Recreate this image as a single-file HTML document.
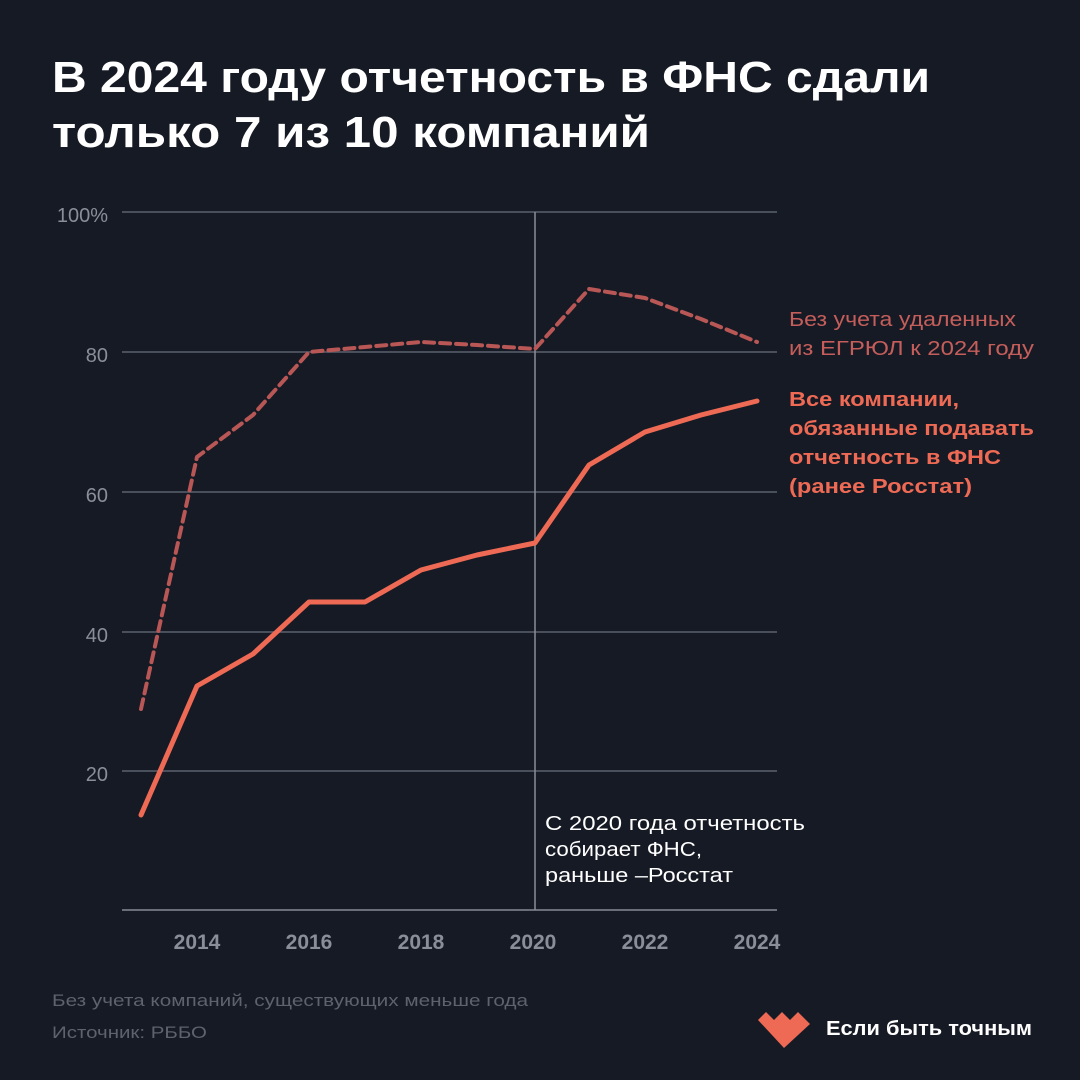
<!DOCTYPE html>
<html><head><meta charset="utf-8"><style>
body{margin:0;background:#161a24;}
svg{display:block}
</style></head><body>
<svg width="1080" height="1080" viewBox="0 0 1080 1080" xmlns="http://www.w3.org/2000/svg" font-family="Liberation Sans, DejaVu Sans, sans-serif">
<rect width="1080" height="1080" fill="#161a24"/>
<text x="52" y="92" fill="#ffffff" font-size="44" font-weight="bold" textLength="878" lengthAdjust="spacingAndGlyphs">В 2024 году отчетность в ФНС сдали</text>
<text x="52" y="147" fill="#ffffff" font-size="44" font-weight="bold" textLength="598" lengthAdjust="spacingAndGlyphs">только 7 из 10 компаний</text>
<g stroke="#4a4f5c" stroke-width="2">
<line x1="122" y1="212" x2="777" y2="212"/>
<line x1="122" y1="352" x2="777" y2="352"/>
<line x1="122" y1="492" x2="777" y2="492"/>
<line x1="122" y1="632" x2="777" y2="632"/>
<line x1="122" y1="771" x2="777" y2="771"/>
<line x1="122" y1="910" x2="777" y2="910" stroke="#6a6e78"/>
</g>
<line x1="535" y1="212" x2="535" y2="910" stroke="#8a8e98" stroke-width="1.5"/>
<g fill="#8a8e98" font-size="20" text-anchor="end">
<text x="108" y="222">100%</text>
<text x="108" y="362">80</text>
<text x="108" y="502">60</text>
<text x="108" y="642">40</text>
<text x="108" y="781">20</text>
</g>
<g fill="#8a8e98" font-size="21" font-weight="bold" text-anchor="middle">
<text x="197" y="949">2014</text><text x="309" y="949">2016</text><text x="421" y="949">2018</text>
<text x="533" y="949">2020</text><text x="645" y="949">2022</text><text x="757" y="949">2024</text>
</g>
<polyline fill="none" stroke="#b85755" stroke-width="4" stroke-dasharray="10,6" stroke-linejoin="round" stroke-linecap="round" points="141,709 197,457 253,415 309,352 365,347 421,342 477,345 535,349 589,289 645,298 701,319 757,342"/>
<polyline fill="none" stroke="#ee6a55" stroke-width="5" stroke-linejoin="round" stroke-linecap="round" points="141,815 197,686 253,654 309,602 365,602 421,570 477,555 535,543 589,465 645,432 701,415 757,401"/>
<text x="789" y="326" fill="#c55e5b" font-size="20" textLength="227" lengthAdjust="spacingAndGlyphs">Без учета удаленных</text>
<text x="789" y="355" fill="#c55e5b" font-size="20" textLength="245" lengthAdjust="spacingAndGlyphs">из ЕГРЮЛ к 2024 году</text>
<g fill="#ee6a55" font-size="20" font-weight="bold">
<text x="789" y="406" textLength="170" lengthAdjust="spacingAndGlyphs">Все компании,</text>
<text x="789" y="435" textLength="245" lengthAdjust="spacingAndGlyphs">обязанные подавать</text>
<text x="789" y="464" textLength="212" lengthAdjust="spacingAndGlyphs">отчетность в ФНС</text>
<text x="789" y="493" textLength="183" lengthAdjust="spacingAndGlyphs">(ранее Росстат)</text>
</g>
<g fill="#ffffff" font-size="20">
<text x="545" y="830" textLength="260" lengthAdjust="spacingAndGlyphs">С 2020 года отчетность</text>
<text x="545" y="856" textLength="157" lengthAdjust="spacingAndGlyphs">собирает ФНС,</text>
<text x="545" y="882" textLength="188" lengthAdjust="spacingAndGlyphs">раньше –Росстат</text>
</g>
<text x="52" y="1006" fill="#5e626c" font-size="17" textLength="476" lengthAdjust="spacingAndGlyphs">Без учета компаний, существующих меньше года</text>
<text x="52" y="1038" fill="#5e626c" font-size="17" textLength="155" lengthAdjust="spacingAndGlyphs">Источник: РББО</text>
<polygon fill="#ee6a55" points="758,1020 766,1012 774,1020 782,1012 790,1020 798,1012 810,1024 784,1048"/>
<text x="826" y="1035" fill="#ffffff" font-size="20" font-weight="bold" textLength="206" lengthAdjust="spacingAndGlyphs">Если быть точным</text>
</svg>
</body></html>
